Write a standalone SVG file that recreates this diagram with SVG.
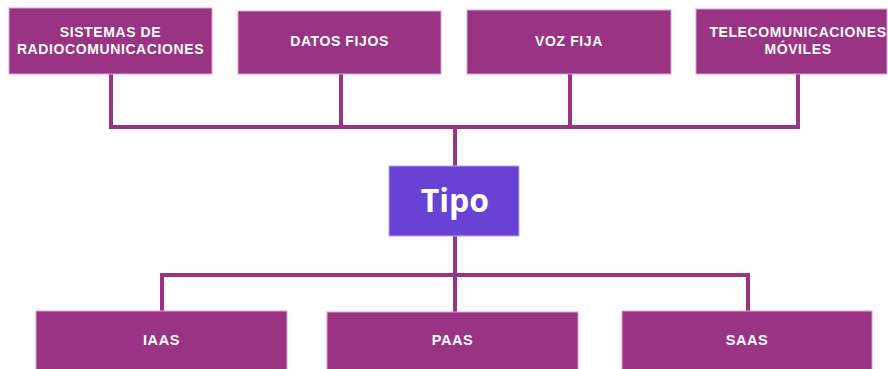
<svg xmlns="http://www.w3.org/2000/svg" width="888" height="369" viewBox="0 0 888 369">
<style>
.box{fill:#9B3385;stroke:#D9A3CF;stroke-width:1}
.tipo{fill:#6842D5;stroke:#B9A6EE;stroke-width:1}
.lbl{fill:#ffffff;font-family:"Liberation Sans","Open Sans",sans-serif;font-weight:700;font-size:14px;letter-spacing:0.6px;text-anchor:middle}
.lbl2{fill:#ffffff;font-family:"Liberation Sans","Open Sans",sans-serif;font-weight:700;font-size:14.5px;letter-spacing:0.6px;text-anchor:middle}
.big{fill:#ffffff;font-family:"Open Sans","Liberation Sans",sans-serif;font-weight:700;font-size:32px;text-anchor:middle}
.conn{fill:none;stroke:#9B3385;stroke-width:4;stroke-linecap:square;stroke-linejoin:miter}
</style>
<rect width="888" height="369" fill="#ffffff"/>
<g id="connectors">
<path class="conn" d="M111 75V127H798V75M341 75V127M570 75V127M455 127V166"/>
<path class="conn" d="M455 236V275M162 311V275H748V311M455 275V311"/>
</g>
<g id="sistemas">
<rect class="box" x="9" y="8" width="203" height="66"/>
<text class="lbl" x="110.5" y="37">SISTEMAS DE</text>
<text class="lbl" x="110.5" y="54">RADIOCOMUNICACIONES</text>
</g>
<g id="datos">
<rect class="box" x="238" y="11" width="203" height="63"/>
<text class="lbl" x="339.5" y="46">DATOS FIJOS</text>
</g>
<g id="voz">
<rect class="box" x="467" y="10" width="204" height="64"/>
<text class="lbl" x="569" y="46">VOZ FIJA</text>
</g>
<g id="telecom">
<rect class="box" x="696" y="9" width="191" height="65"/>
<text class="lbl" x="798" y="37">TELECOMUNICACIONES</text>
<text class="lbl" x="798" y="54">MÓVILES</text>
</g>
<g id="tipo">
<rect class="tipo" x="389" y="166" width="130" height="70"/>
<text class="big" x="455" y="212">Tipo</text>
</g>
<g id="iaas">
<rect class="box" x="36" y="311" width="251" height="60"/>
<text class="lbl2" x="161.5" y="345">IAAS</text>
</g>
<g id="paas">
<rect class="box" x="327" y="312" width="251" height="59"/>
<text class="lbl2" x="452.5" y="345">PAAS</text>
</g>
<g id="saas">
<rect class="box" x="622" y="311" width="250" height="60"/>
<text class="lbl2" x="747" y="345">SAAS</text>
</g>
</svg>
